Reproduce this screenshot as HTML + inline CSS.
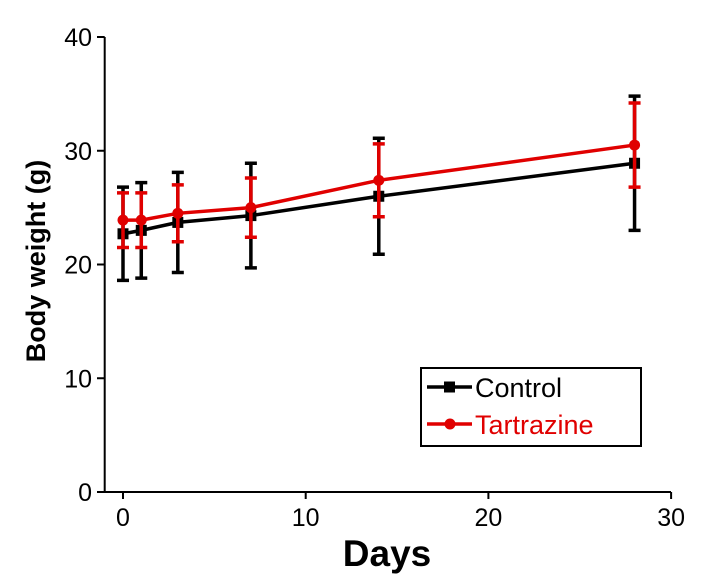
<!DOCTYPE html>
<html><head><meta charset="utf-8">
<style>html,body{margin:0;padding:0;background:#fff;}svg{display:block;font-family:"Liberation Sans",Arial,sans-serif;}</style>
</head><body>
<svg id="chart" width="720" height="584"></svg>
<script>
const days = [0, 1, 3, 7, 14, 28];
const controlMean = [22.7, 23.0, 23.7, 24.3, 26.0, 28.9];
const controlErr = [4.1, 4.2, 4.4, 4.6, 5.1, 5.9];
const tartMean = [23.9, 23.9, 24.5, 25.0, 27.4, 30.5];
const tartErr = [2.4, 2.4, 2.5, 2.6, 3.2, 3.7];
const xTicks = [0, 10, 20, 30];
const yTicks = [0, 10, 20, 30, 40];

const NS = "http://www.w3.org/2000/svg";
const svg = document.getElementById("chart");
const X = d => 123 + d * 18.27;
const Y = v => 492 - v * 11.375;
function el(tag, attrs, parent) {
  const e = document.createElementNS(NS, tag);
  for (const k in attrs) e.setAttribute(k, attrs[k]);
  (parent || svg).appendChild(e);
  return e;
}
const ax = el("path", {d: `M104.7,37 V492 H671`, fill: "none", stroke: "#000", "stroke-width": 2});


xTicks.forEach(t => {
  const l = el("line", {x1: X(t), x2: X(t), y1: 492, y2: 499, stroke: "#000", "stroke-width": 2});
  
  
  const tx = el("text", {x: X(t), y: 526, "font-size": 25, "text-anchor": "middle"});
  tx.textContent = t;
  
  
});
yTicks.forEach(t => {
  const l = el("line", {x1: 97, x2: 104.7, y1: Y(t), y2: Y(t), stroke: "#000", "stroke-width": 2});
  
  
  const tx = el("text", {x: 92, y: Y(t) + 9, "font-size": 25, "text-anchor": "end"});
  tx.textContent = t;
  
  
});
const xt = el("text", {x: 387, y: 566, "font-size": 37, "font-weight": "bold", "text-anchor": "middle"});
xt.textContent = "Days";


const yt = el("text", {x: 0, y: 0, "font-size": 27, "font-weight": "bold", "text-anchor": "middle", transform: "translate(45,261) rotate(-90)"});
yt.textContent = "Body weight (g)";



function series(means, errs, color, name, marker) {
  const g = el("g", {});
  
  
  means.forEach((m, i) => {
    const x = X(days[i]);
    const e = el("path", {d: `M${x},${Y(m+errs[i])} V${Y(m-errs[i])} M${x-6},${Y(m+errs[i])} H${x+6} M${x-6},${Y(m-errs[i])} H${x+6}`, stroke: color, "stroke-width": 3.5, fill: "none"}, g);
    
    
  });
  const pl = el("polyline", {points: means.map((m, i) => X(days[i]) + "," + Y(m)).join(" "), fill: "none", stroke: color, "stroke-width": 3.5}, g);
  
  
  means.forEach((m, i) => {
    const p = marker === "sq" ? el("rect", {x: X(days[i]) - 5.5, y: Y(m) - 5.5, width: 11, height: 11, fill: color}, g)
      : el("circle", {cx: X(days[i]), cy: Y(m), r: 5.5, fill: color}, g);
    
    
  });
}
series(controlMean, controlErr, "#000", "control", "sq");
series(tartMean, tartErr, "#e00000", "tartrazine", "ci");

const lg = el("g", {});


const lb = el("rect", {x: 421, y: 368, width: 220, height: 78, fill: "#fff", stroke: "#000", "stroke-width": 2}, lg);


[["Control", "#000", 387, "sq"], ["Tartrazine", "#e00000", 424, "ci"]].forEach(([t, c, y, m]) => {
  const l = el("line", {x1: 427, x2: 472, y1: y, y2: y, stroke: c, "stroke-width": 3.5}, lg);
  
  
  const mk = m === "sq" ? el("rect", {x: 444, y: y - 5.5, width: 11, height: 11, fill: c}, lg) : el("circle", {cx: 450, cy: y, r: 5.5, fill: c}, lg);
  
  
  const tx = el("text", {x: 475, y: y + 10, "font-size": 27, fill: c}, lg);
  tx.textContent = t;
  
  
});
</script>
</body></html>
